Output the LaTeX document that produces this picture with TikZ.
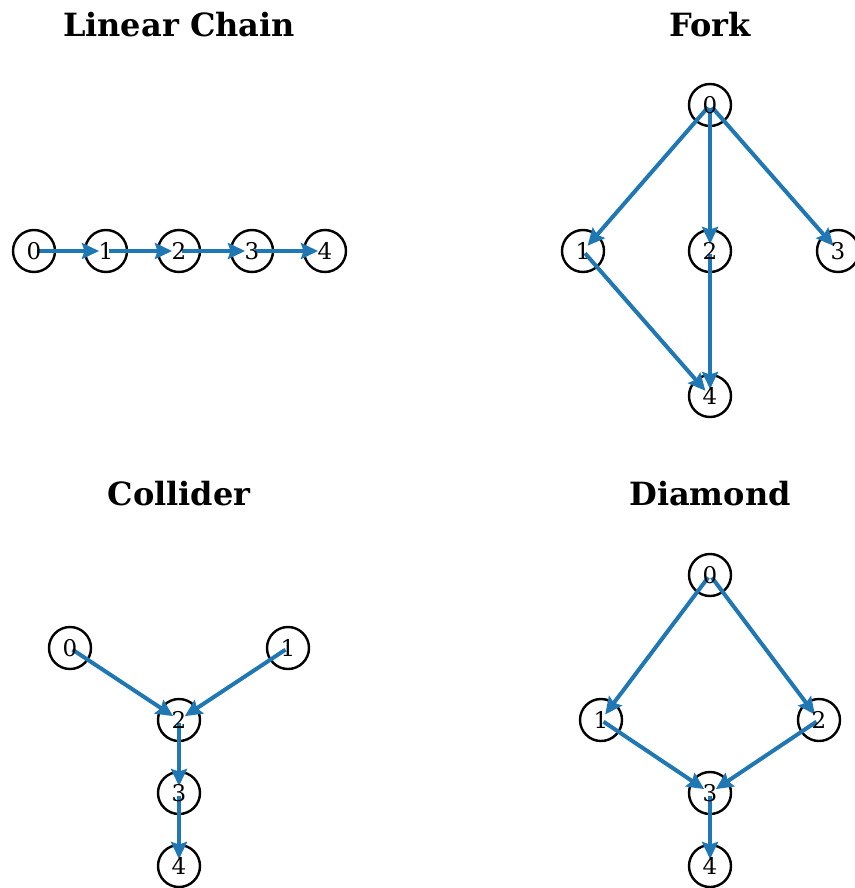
\documentclass[tikz,border=0pt]{standalone}
\usepackage{fontspec}
\setmainfont{DejaVu Serif}
\usetikzlibrary{arrows.meta}
\definecolor{edgeblue}{HTML}{1F77B4}
\tikzset{
  vertex/.style={circle, draw=black, line width=2.4pt, minimum size=42pt, inner sep=0pt},
  vlabel/.style={font=\fontsize{23}{23}\selectfont, inner sep=0pt},
  edge/.style={draw=edgeblue, line width=4pt,
    -{Stealth[length=17pt, width=16pt, inset=2.5pt]},
    shorten >=7pt, shorten <=3pt},
  paneltitle/.style={font=\fontsize{32}{32}\selectfont\bfseries, inner sep=0pt}
}
\begin{document}
\begin{tikzpicture}[x=1pt, y=-1pt]
\useasboundingbox (0,0) rectangle (854,888);

% panel titles
\node[paneltitle] (tA) at (179,25) {Linear Chain};
\node[paneltitle] (tB) at (710,25) {Fork};
\node[paneltitle] (tC) at (179,494) {Collider};
\node[paneltitle] (tD) at (710,494) {Diamond};

% node positions
\coordinate (a0) at (34,251);
\coordinate (a1) at (106,251);
\coordinate (a2) at (179,251);
\coordinate (a3) at (252,251);
\coordinate (a4) at (325,251);

\coordinate (b0) at (710,105);
\coordinate (b1) at (583,251);
\coordinate (b2) at (710,251);
\coordinate (b3) at (838,251);
\coordinate (b4) at (710,396);

\coordinate (c0) at (70,648);
\coordinate (c1) at (288,648);
\coordinate (c2) at (179,720);
\coordinate (c3) at (179,793);
\coordinate (c4) at (179,866);

\coordinate (d0) at (710,575);
\coordinate (d1) at (601,720);
\coordinate (d2) at (819,720);
\coordinate (d3) at (710,793);
\coordinate (d4) at (710,866);

% circles
\foreach \p in {a,b,c,d}{
  \foreach \i in {0,...,4}{
    \node[vertex] (\p\i c) at (\p\i) {};
  }
}

% edges
\draw[edge] (a0) -- (a1);
\draw[edge] (a1) -- (a2);
\draw[edge] (a2) -- (a3);
\draw[edge] (a3) -- (a4);

\draw[edge] (b0) -- (b1);
\draw[edge] (b0) -- (b2);
\draw[edge] (b0) -- (b3);
\draw[edge] (b1) -- (b4);
\draw[edge] (b2) -- (b4);

\draw[edge] (c0) -- (c2);
\draw[edge] (c1) -- (c2);
\draw[edge] (c2) -- (c3);
\draw[edge] (c3) -- (c4);

\draw[edge] (d0) -- (d1);
\draw[edge] (d0) -- (d2);
\draw[edge] (d1) -- (d3);
\draw[edge] (d2) -- (d3);
\draw[edge] (d3) -- (d4);

% labels on top
\foreach \p in {a,b,c,d}{
  \foreach \i in {0,...,4}{
    \node[vlabel] (\p\i t) at (\p\i) {\i};
  }
}
\end{tikzpicture}
\end{document}
